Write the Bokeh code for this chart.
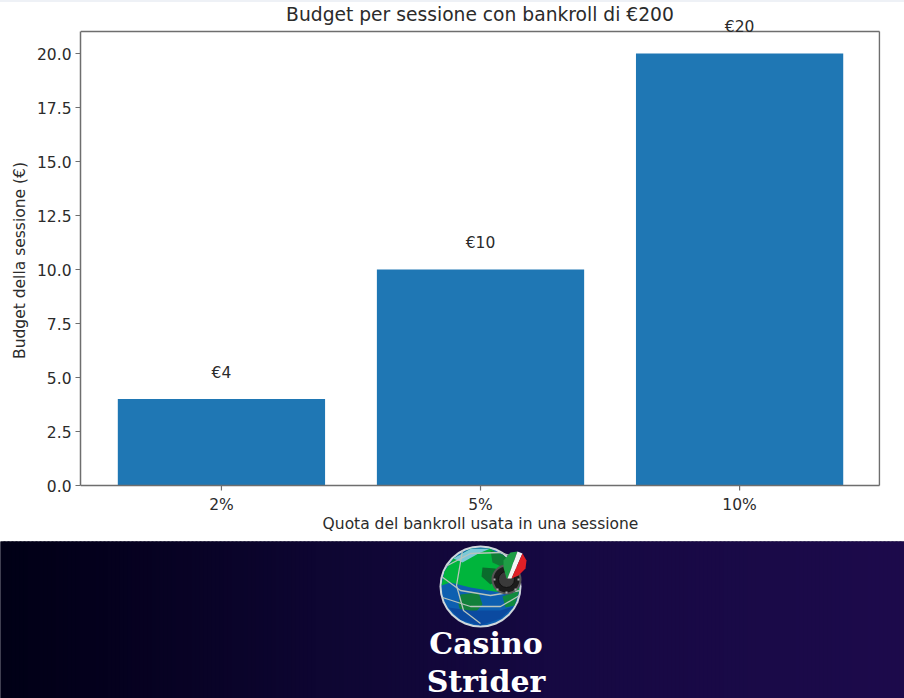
import numpy as np
from bokeh.plotting import figure
from bokeh.layouts import column
from bokeh.models import ColumnDataSource, Label, FixedTicker, Range1d, CustomJSTickFormatter
from bokeh.embed import file_html
from bokeh.resources import INLINE
from bokeh.core.properties import value

categories = ["2%", "5%", "10%"]
budgets = [4, 10, 20]
labels = ["€4", "€10", "€20"]
y_ticks = [0, 2.5, 5, 7.5, 10, 12.5, 15, 17.5, 20]
title = "Budget per sessione con bankroll di €200"
xlabel = "Quota del bankroll usata in una sessione"
ylabel = "Budget della sessione (€)"
brand = ["Casino", "Strider"]

FONT = "DejaVu Sans"
INK = "#2b2b2b"
EDGE = "#6e6e6e"
W = 904
X0, X1 = -0.544, 2.54      # axes box, horizontally
Y1 = 21.02                 # axes box top
PX = 21.6                  # pixels per budget unit

p = figure(width=W, height=541,
           x_range=Range1d(X0, X1 + 1 / 259), y_range=Range1d(-35 / PX, 485 / PX),
           toolbar_location=None, output_backend="svg", frame_align=False,
           min_border_left=80, min_border_right=24, min_border_top=0, min_border_bottom=21)
p.grid.visible = False
p.outline_line_color = None
p.background_fill_color = None
p.border_fill_color = None

xs = list(range(len(categories)))
src = ColumnDataSource(dict(x=xs, top=budgets))
p.vbar(x="x", top="top", bottom=0, width=0.8, source=src, fill_color="#1f77b4", line_color=None)

# the axes box and the category ticks with their labels
p.segment(x0=[X0, X1, X0], y0=[Y1, 0, 0], x1=[X1, X1, X1], y1=[Y1, Y1, 0], line_color=EDGE, line_width=1.5)
p.segment(x0=xs, x1=xs, y0=[0] * 3, y1=[-5 / PX] * 3, line_color=EDGE, line_width=1.2)
p.text(x=xs, y=[-19 / PX] * 3, text=categories, text_align="center", text_baseline="middle",
       text_font=value(FONT), text_font_size="15.5px", text_color=INK)

p.add_layout(Label(x=(X0 + X1) / 2, y=471 / PX, text=title, text_align="center", text_baseline="middle",
                   text_font=FONT, text_font_size="18.7px", text_color=INK))
for xv, bv, lab in zip(xs, budgets, labels):
    p.add_layout(Label(x=xv, y=bv + 1, y_offset=5, text=lab, text_align="center", text_baseline="alphabetic",
                       text_font=FONT, text_font_size="15.5px", text_color=INK, level="overlay"))

p.xaxis.ticker = FixedTicker(ticks=[])
p.xaxis.major_label_text_font_size = "0px"
p.xaxis.major_tick_line_color = None
p.xaxis.minor_tick_line_color = None
p.xaxis.axis_line_color = None
p.xaxis.major_label_standoff = 0
p.xaxis.axis_label_standoff = -6
p.yaxis.ticker = FixedTicker(ticks=y_ticks)
p.yaxis.bounds = (0, Y1)
p.yaxis.formatter = CustomJSTickFormatter(code="return tick.toFixed(1)")
p.yaxis.major_label_text_font = FONT
p.yaxis.major_label_text_font_size = "15.5px"
p.yaxis.major_label_text_color = INK
p.yaxis.axis_line_color = EDGE
p.yaxis.axis_line_width = 1.5
p.yaxis.major_tick_line_color = EDGE
p.yaxis.major_tick_line_width = 1.2
p.yaxis.major_tick_in = 0
p.yaxis.major_tick_out = 5
p.yaxis.minor_tick_line_color = None
p.yaxis.major_label_standoff = 4
p.yaxis.axis_label_standoff = 5
for ax, lab in ((p.xaxis, xlabel), (p.yaxis, ylabel)):
    ax.axis_label = lab
    ax.axis_label_text_font = FONT
    ax.axis_label_text_font_style = "normal"
    ax.axis_label_text_font_size = "15.5px"
    ax.axis_label_text_color = INK

# Banner with the logo, drawn in pixel-like coordinates
b = figure(width=W, height=157, x_range=Range1d(0, W), y_range=Range1d(698, 541),
           toolbar_location=None, output_backend="svg", frame_align=False,
           min_border_left=0, min_border_right=0, min_border_top=0, min_border_bottom=0)
b.axis.visible = False
b.grid.visible = False
b.outline_line_color = None
b.border_fill_color = "#03001c"
b.background_fill_color = "#03001c"

stops_x = [0, 0.12, 0.35, 0.6, 1]
stops = np.array([[1, 0, 22], [5, 1, 30], [14, 6, 50], [22, 9, 66], [29, 11, 76]], float)
edges = np.arange(0, W + 4, 4)
mid = (edges[:-1] + 2) / W
cols = ["#%02x%02x%02x" % tuple(int(np.interp(m, stops_x, stops[:, c])) for c in range(3)) for m in mid]
b.quad(left=edges[:-1] - 1, right=edges[:-1] + 5, top=530, bottom=710, fill_color=cols, line_color=None)

cx, cy, r = 480, 586, 40
b.circle(x=[cx], y=[cy], radius=r + 1, fill_color="#cfd8dc", line_color=None)
b.circle(x=[cx], y=[cy], radius=r - 1, fill_color="#0d5fb0", line_color=None)

def clip_disk(px, py):
    px, py = np.array(px, float), np.array(py, float)
    dx, dy = px - cx, py - cy
    d = np.hypot(dx, dy)
    k = np.minimum(1, (r - 1) / np.maximum(d, 1e-6))
    return (cx + dx * k).tolist(), (cy + dy * k).tolist()

def blob(pts, col):
    x, y = clip_disk([q[0] for q in pts], [q[1] for q in pts])
    b.patch(x, y, fill_color=col, line_color=None)

blob([(441, 585), (442, 570), (452, 557), (470, 548), (490, 546), (510, 555), (519, 575), (519, 590), (500, 592), (470, 587), (450, 582)], "#00b53c")
blob([(452, 557), (470, 547), (490, 546), (478, 553), (462, 562)], "#7cc8d8")
blob([(490, 550), (505, 551), (513, 562), (505, 568), (492, 562)], "#0f7d35")
blob([(482, 567), (495, 568), (500, 578), (490, 584), (481, 576)], "#0a6b2c")
blob([(460, 594), (478, 592), (482, 604), (474, 613), (470, 622), (462, 618), (458, 604)], "#12803a")
blob([(502, 596), (520, 590), (516, 606), (505, 607)], "#0f8a3d")
blob([(448, 607), (470, 610), (500, 610), (514, 606), (500, 618), (480, 625), (460, 620)], "#0b4aa0")

for arc in [
    ([441, 460, 490, 520], [576, 590, 595, 590]),
    ([442, 470, 500, 519], [597, 606, 606, 595]),
    ([462, 456, 463, 480], [550, 585, 610, 623]),
    ([445, 470, 500, 512], [566, 553, 552, 556]),
]:
    b.line(arc[0], arc[1], line_color="#b8c4bc", line_width=1.3)

b.circle(x=[506], y=[579], radius=14, fill_color="#1c1c1c", line_color="#555555", line_width=2)
b.circle(x=[506], y=[579], radius=8, fill_color="#3a3a3a", line_color="#111111")
b.scatter(x=[494, 518, 506, 506, 497, 515], y=[579, 579, 592, 566, 589, 589], size=2, marker="square", fill_color="#aaaaaa", line_color=None)
# flag teardrop: green, white, red stripes
b.patch([506, 503, 503, 510, 517, 507], [578, 567, 560, 552, 551, 578], fill_color="#1f9e45", line_color=None)
b.patch([507, 517, 522, 511], [578, 551, 553, 578], fill_color="#f4f4f4", line_color=None)
b.patch([511, 522, 526, 525, 518], [578, 553, 560, 568, 575], fill_color="#e01f26", line_color=None)

b.text(x=[485.5, 485.5], y=[643, 681], text=brand, text_align="center", text_baseline="middle",
       text_font=value("DejaVu Serif"), text_font_style="bold", text_font_size="30px", text_color="#ffffff")

root = column(p, b, spacing=0)
root.styles = {"position": "fixed", "left": "0", "top": "0",
               "background": "linear-gradient(#eef1f6 0 2px, white 2px)"}
open("out.html", "w").write(file_html(root, INLINE))
